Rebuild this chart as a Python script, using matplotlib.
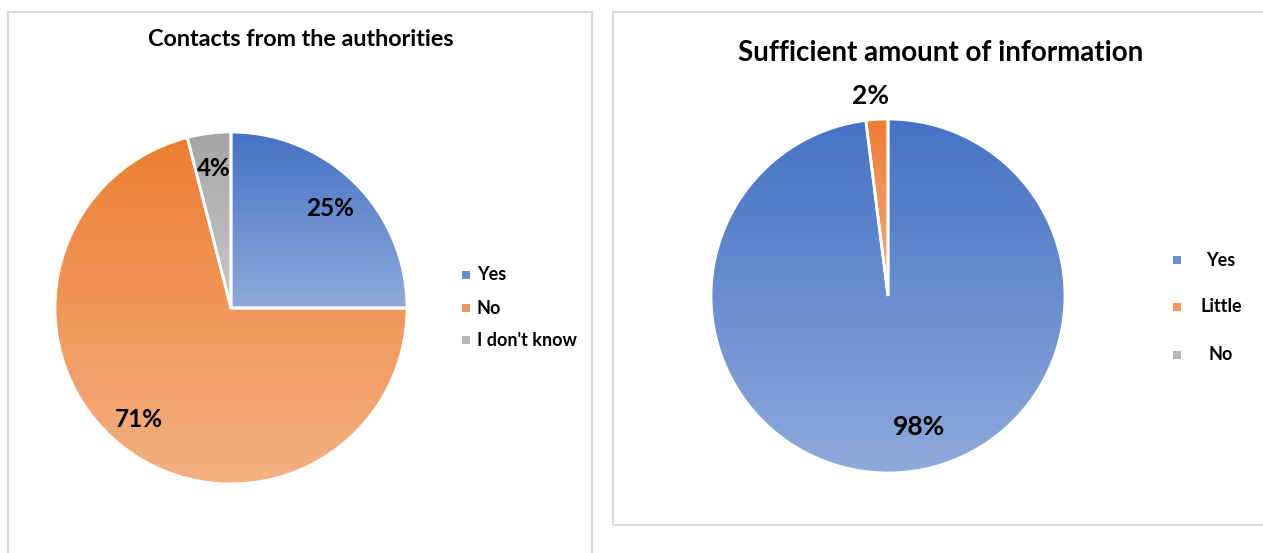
import numpy as np
import matplotlib.pyplot as plt
from matplotlib.colors import LinearSegmentedColormap
from matplotlib.patches import Rectangle

plt.rcParams['font.family'] = ['Lato', 'DejaVu Sans']
plt.rcParams['font.weight'] = 'bold'

W, H = 1263, 553

# left chart
contact_title = "Contacts from the authorities"
contact_labels = ["Yes", "No", "I don't know"]
contact_values = [25, 71, 4]

# right chart
info_title = "Sufficient amount of information"
info_labels = ["Yes", "Little", "No"]
info_values = [98, 2, 0]

# (dark top, light bottom) for each series colour
GRADIENTS = [("#4472C4", "#8FAADC"), ("#ED7D31", "#F4B183"), ("#A5A5A5", "#C9C9C9")]


def to_y(y_img):
    return H - y_img


def gradient_fill(ax, wedge, top, bottom):
    verts = wedge.get_path().vertices
    x0, y0 = verts.min(axis=0)
    x1, y1 = verts.max(axis=0)
    cmap = LinearSegmentedColormap.from_list("g", [bottom, top])
    grad = np.linspace(0, 1, 256).reshape(-1, 1)
    im = ax.imshow(grad, cmap=cmap, origin="lower", aspect="auto",
                   extent=(x0, x1, y0, y1), zorder=1, interpolation="bilinear")
    im.set_clip_path(wedge)
    wedge.set_facecolor("none")
    wedge.set_zorder(2)


def draw_pie(ax, values, center, radius, label_dist, label_shift, label_size):
    wedges, _ = ax.pie(values, center=center, radius=radius, startangle=90,
                       counterclock=False, frame=True,
                       wedgeprops=dict(edgecolor="white", linewidth=2))
    total = sum(values)
    for w, v, (top, bottom), d, (dx, dy) in zip(wedges, values, GRADIENTS,
                                                label_dist, label_shift):
        if v == 0:
            w.set_visible(False)
            continue
        gradient_fill(ax, w, top, bottom)
        mid = np.deg2rad((w.theta1 + w.theta2) / 2)
        ax.text(center[0] + d * radius * np.cos(mid) + dx,
                center[1] + d * radius * np.sin(mid) + dy,
                f"{round(v / total * 100)}%", ha="center", va="center",
                fontsize=label_size, fontweight="bold", zorder=5)


def draw_legend(ax, labels, x_marker, x_text, ys, ha, size):
    for (top, bottom), lab, y in zip(GRADIENTS, labels, ys):
        cmap = LinearSegmentedColormap.from_list("g", [bottom, top])
        ax.add_patch(Rectangle((x_marker - 4, to_y(y) - 4), 8, 8,
                               facecolor=cmap(0.5), edgecolor="none"))
        ax.text(x_text, to_y(y), lab, ha=ha, va="center",
                fontsize=size, fontweight="bold")


fig = plt.figure(figsize=(W / 100, H / 100), dpi=100)
ax = fig.add_axes([0, 0, 1, 1])

# panel frames
ax.add_patch(Rectangle((8, to_y(600)), 584, 600 - 12, fill=False,
                       edgecolor="#d9d9d9", linewidth=1.5))
ax.add_patch(Rectangle((613, to_y(525)), 700, 525 - 12, fill=False,
                       edgecolor="#d9d9d9", linewidth=1.5))

draw_pie(ax, contact_values, (231, to_y(308)), 176, [0.8, 0.82, 0.8],
         [(0, 0), (-4, 3), (0, 0)], 17.5)
draw_pie(ax, info_values, (888, to_y(296)), 177, [0.74, 1.13, 1.0],
         [(23, 0), (-5, 0), (0, 0)], 19)

ax.text(301, to_y(40), contact_title, ha="center", va="center",
        fontsize=16.8, fontweight="bold")
ax.text(941, to_y(53), info_title, ha="center", va="center",
        fontsize=20, fontweight="bold")

draw_legend(ax, contact_labels, 466, 477, [275, 308, 340], "left", 13)
draw_legend(ax, info_labels, 1177, 1221, [260, 307, 355], "center", 13)

ax.set_xlim(0, W)
ax.set_ylim(0, H)
ax.set_aspect("auto")
ax.axis("off")

fig.savefig("out.png", dpi=100, facecolor="white")
